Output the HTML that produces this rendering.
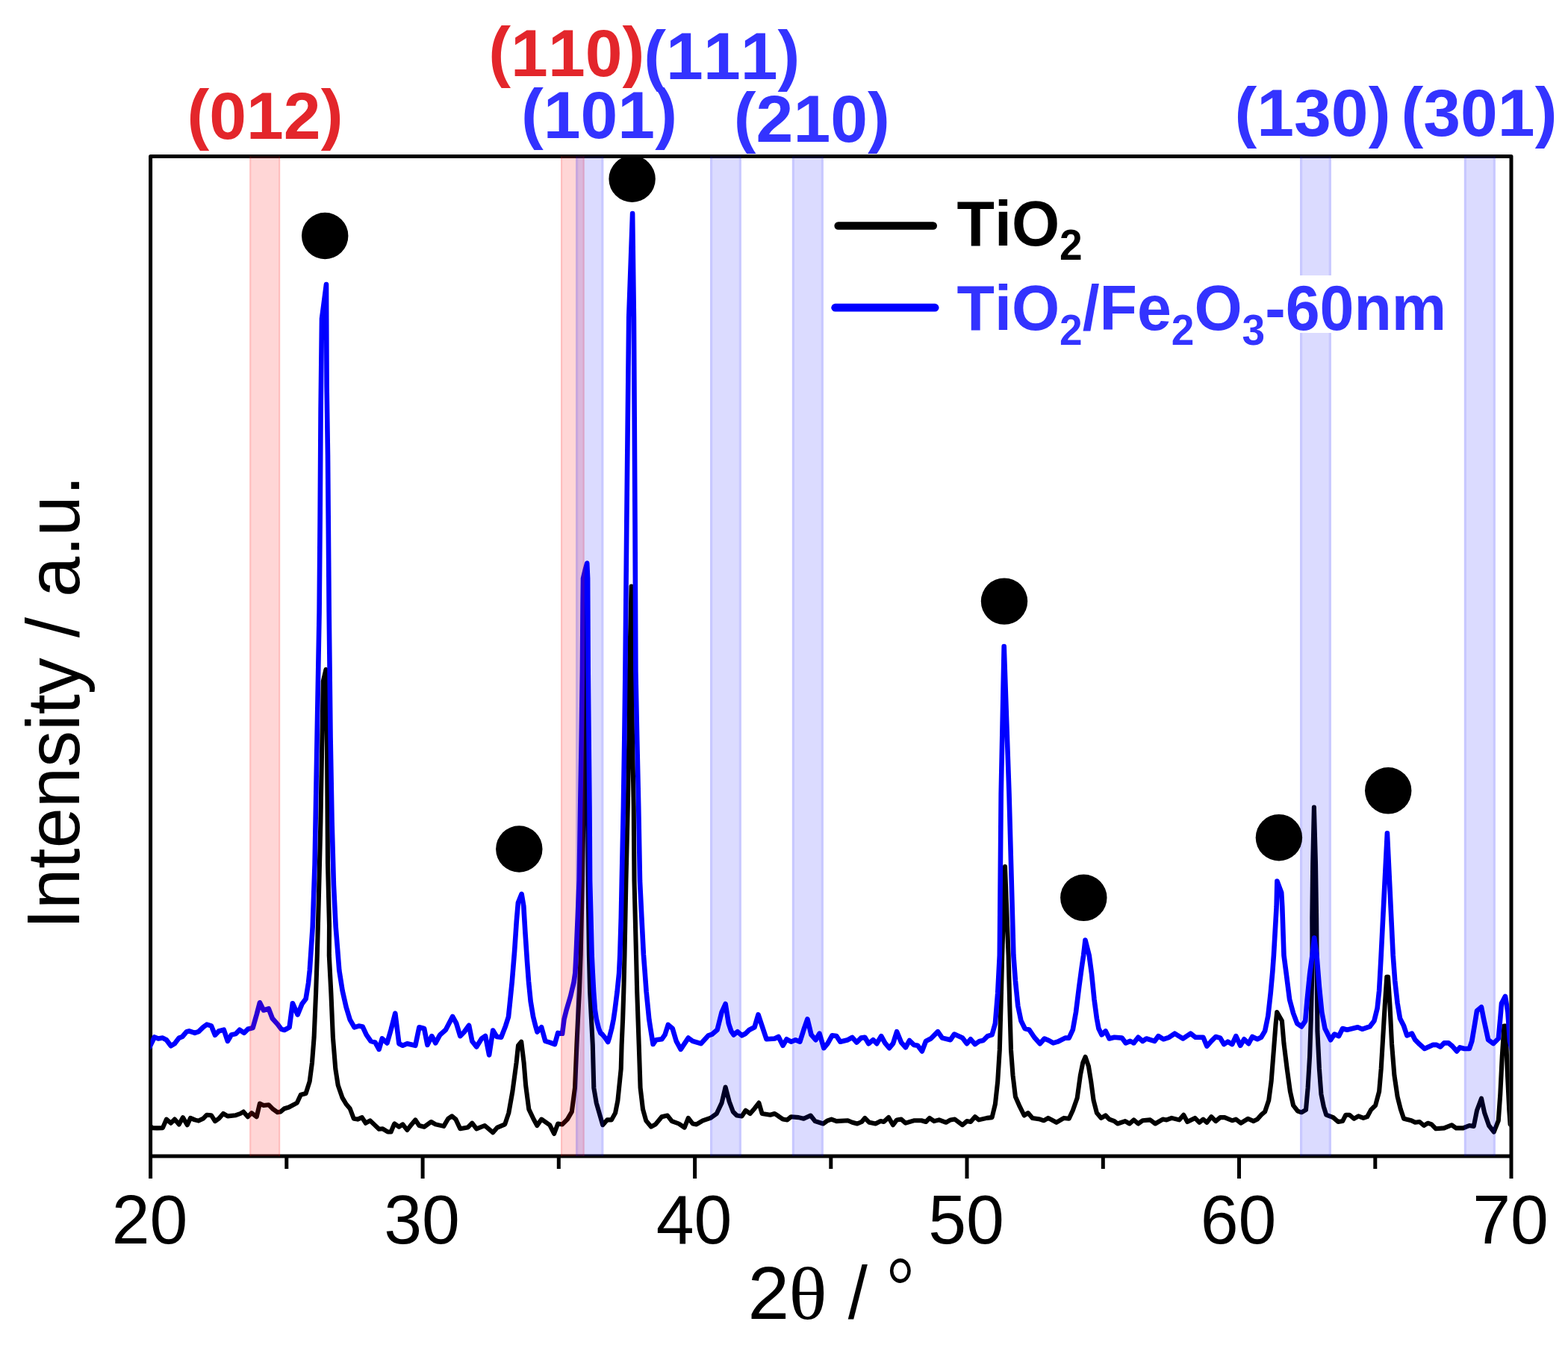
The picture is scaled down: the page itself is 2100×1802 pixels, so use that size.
<!DOCTYPE html>
<html lang="en"><head><meta charset="utf-8"><title>XRD patterns of TiO2 and TiO2/Fe2O3-60nm</title>
<style>
html,body{margin:0;padding:0;background:#fff;}
body{width:2100px;height:1802px;overflow:hidden;}
svg{display:block;filter:blur(0.75px);}
text{font-family:"Liberation Sans",Arial,Helvetica,sans-serif;font-kerning:none;}
.tick{font-size:91.4px;fill:#000;text-anchor:middle;}
.axl{font-size:98px;fill:#000;}
.hkl{font-size:89.5px;font-weight:bold;font-kerning:none;}
.leg{font-size:82.5px;font-weight:bold;}
.red{fill:#e3262b;}
.blu{fill:#3333ff;}
</style></head>
<body>
<svg width="2100" height="1802" viewBox="0 0 2100 1802" role="img" aria-label="XRD patterns">
<rect x="0" y="0" width="2100" height="1802" fill="#ffffff"/>

<g stroke="#000" stroke-width="5.0" fill="none" stroke-linecap="butt">
<path d="M201.6,1579.0 L201.6,209.5 L2024.0,209.5 L2024.0,1579.0" stroke-linejoin="round"/>
<path d="M201.6,1549.0 L2024.0,1549.0"/>
<path d="M566.1,1549.0 L566.1,1579.0"/>
<path d="M930.6,1549.0 L930.6,1579.0"/>
<path d="M1295.0,1549.0 L1295.0,1579.0"/>
<path d="M1659.5,1549.0 L1659.5,1579.0"/>
<path d="M383.8,1549.0 L383.8,1566"/>
<path d="M748.3,1549.0 L748.3,1566"/>
<path d="M1112.8,1549.0 L1112.8,1566"/>
<path d="M1477.3,1549.0 L1477.3,1566"/>
<path d="M1841.8,1549.0 L1841.8,1566"/>
</g>
<clipPath id="plotclip"><rect x="201.6" y="209.5" width="1820.0" height="1339.5"/></clipPath>
<g fill="none" stroke-linejoin="round" stroke-linecap="round" clip-path="url(#plotclip)">
<path d="M200.1,1508.0 L204.4,1511.1 L210.3,1511.4 L217.9,1511.1 L222.9,1499.6 L228.9,1504.7 L233.9,1499.6 L239.8,1506.4 L244.9,1497.1 L250.8,1507.2 L255.0,1497.9 L260.9,1500.4 L266.0,1501.6 L271.9,1498.8 L277.0,1493.7 L282.9,1494.2 L288.0,1502.1 L293.0,1498.8 L299.0,1492.0 L304.9,1495.4 L315.8,1494.2 L321.8,1492.0 L326.0,1489.5 L331.9,1496.2 L337.0,1491.1 L343.7,1496.2 L347.9,1478.5 L353.0,1481.0 L359.8,1480.2 L365.7,1486.1 L371.6,1490.3 L375.8,1489.5 L380.9,1485.2 L386.8,1483.5 L397.8,1477.6 L402.8,1466.7 L409.6,1465.0 L414.7,1448.9 L418.0,1423.6 L420.6,1389.8 L423.1,1330.7 L424.8,1280.0 L426.6,1213.7 L429.4,1101.0 L431.4,988.7 L432.8,912.8 L436.5,897.0 L438.0,1000.0 L439.0,1157.0 L441.0,1240.0 L440.8,1280.0 L443.4,1330.7 L445.9,1389.8 L449.3,1432.0 L452.7,1454.0 L458.6,1470.9 L463.6,1479.3 L468.7,1485.2 L473.8,1498.8 L478.9,1499.6 L484.8,1497.1 L489.8,1504.7 L495.7,1501.3 L501.7,1507.2 L507.6,1512.8 L512.6,1512.3 L519.4,1516.5 L523.6,1516.5 L527.8,1506.4 L528.4,1505.5 L534.4,1509.7 L539.4,1506.4 L545.3,1514.0 L551.2,1506.4 L556.3,1500.4 L561.4,1508.0 L568.1,1509.7 L577.4,1503.0 L583.3,1506.4 L594.3,1508.9 L600.2,1498.8 L605.3,1495.4 L610.4,1499.6 L616.3,1512.3 L626.4,1510.6 L632.3,1504.7 L638.2,1512.3 L649.2,1508.0 L660.2,1517.3 L666.1,1510.6 L676.2,1506.4 L681.3,1491.1 L686.4,1462.4 L691.6,1423.6 L694.0,1400.8 L698.2,1395.7 L701.6,1423.6 L704.1,1454.0 L708.3,1486.1 L714.3,1498.8 L719.3,1508.0 L725.2,1499.6 L736.2,1507.2 L742.1,1519.0 L747.2,1505.5 L753.1,1506.4 L759.9,1499.6 L765.8,1489.5 L770.0,1457.4 L772.4,1400.0 L774.0,1365.6 L775.9,1328.5 L777.7,1279.0 L779.9,1180.0 L781.2,1105.0 L783.0,902.0 L785.0,800.0 L786.3,777.0 L787.0,880.0 L787.3,1105.0 L787.6,1180.0 L788.9,1279.0 L790.1,1328.5 L792.0,1365.6 L793.8,1400.0 L795.3,1457.4 L798.7,1477.6 L807.2,1507.2 L813.1,1500.4 L819.0,1500.4 L824.1,1491.1 L827.4,1474.3 L831.7,1432.0 L832.6,1400.0 L834.1,1365.6 L835.3,1328.5 L836.5,1279.0 L838.4,1180.0 L840.8,1080.0 L842.3,990.0 L843.0,900.0 L845.6,785.5 L845.9,900.0 L847.0,990.0 L848.7,1080.0 L849.5,1180.0 L852.0,1279.0 L853.2,1328.5 L854.5,1365.6 L855.7,1400.0 L857.6,1457.4 L861.0,1486.1 L865.2,1501.3 L872.0,1509.7 L877.9,1506.4 L886.3,1496.2 L893.9,1494.5 L899.8,1502.1 L909.1,1505.5 L916.7,1510.6 L921.8,1497.9 L927.7,1505.5 L932.8,1506.4 L941.2,1501.3 L951.4,1497.9 L959.8,1492.0 L966.6,1477.6 L971.6,1456.5 L976.7,1475.9 L981.8,1489.5 L986.8,1494.5 L993.6,1495.4 L998.6,1487.8 L1004.6,1492.0 L1010.5,1485.2 L1016.4,1477.6 L1020.6,1492.0 L1031.6,1493.7 L1037.5,1492.0 L1042.6,1495.4 L1048.5,1499.6 L1054.4,1500.4 L1059.5,1496.2 L1069.6,1497.1 L1076.4,1498.8 L1085.6,1494.5 L1091.6,1502.1 L1102.5,1505.5 L1108.4,1501.3 L1113.5,1499.6 L1120.3,1502.1 L1135.5,1501.3 L1141.4,1503.8 L1148.1,1505.5 L1154.1,1503.0 L1158.3,1497.9 L1164.2,1503.8 L1172.6,1505.5 L1179.4,1502.1 L1183.6,1503.0 L1190.1,1497.1 L1196.0,1507.2 L1201.1,1500.4 L1207.0,1499.6 L1212.9,1504.7 L1223.9,1501.3 L1234.1,1501.3 L1240.0,1503.0 L1245.0,1497.9 L1250.9,1502.1 L1257.7,1500.4 L1267.0,1503.8 L1272.9,1500.4 L1278.8,1499.6 L1289.0,1507.2 L1294.9,1502.1 L1299.9,1503.0 L1305.8,1496.2 L1310.9,1500.4 L1321.9,1497.9 L1328.6,1497.1 L1332.9,1479.3 L1336.2,1448.9 L1338.8,1406.7 L1340.5,1347.6 L1342.2,1280.0 L1346.0,1161.0 L1350.6,1280.0 L1352.3,1347.6 L1354.0,1406.7 L1356.5,1440.5 L1359.9,1469.2 L1365.8,1482.7 L1371.7,1494.5 L1376.8,1491.1 L1382.7,1497.9 L1392.8,1499.6 L1397.9,1501.3 L1403.8,1497.9 L1414.8,1503.8 L1424.9,1497.9 L1431.7,1498.8 L1436.8,1487.8 L1442.7,1470.9 L1446.9,1440.5 L1450.3,1423.6 L1453.6,1416.0 L1457.9,1428.6 L1461.2,1448.9 L1464.6,1474.3 L1468.9,1491.1 L1474.8,1497.9 L1480.7,1494.5 L1485.7,1499.6 L1492.5,1502.1 L1496.7,1505.5 L1506.9,1502.1 L1512.8,1505.5 L1518.4,1500.4 L1524.4,1505.5 L1530.3,1501.3 L1540.4,1500.4 L1547.2,1505.5 L1557.3,1499.6 L1562.4,1500.4 L1569.1,1497.9 L1579.3,1500.4 L1585.2,1493.7 L1590.2,1503.0 L1600.4,1497.9 L1606.3,1503.8 L1611.4,1499.6 L1616.4,1503.8 L1622.3,1496.2 L1628.2,1502.1 L1634.2,1497.1 L1640.1,1497.1 L1650.2,1501.3 L1655.3,1499.6 L1662.0,1504.7 L1671.3,1498.8 L1678.9,1502.1 L1684.0,1499.6 L1689.1,1493.7 L1694.1,1489.5 L1699.2,1474.3 L1702.6,1448.9 L1705.9,1406.7 L1708.5,1372.9 L1710.2,1356.0 L1716.9,1367.8 L1719.5,1398.2 L1723.7,1432.0 L1727.9,1462.4 L1732.1,1481.0 L1738.0,1488.6 L1743.1,1490.3 L1749.0,1486.9 L1751.6,1457.4 L1754.1,1415.1 L1755.8,1364.5 L1757.1,1313.8 L1757.5,1280.0 L1757.3,1230.0 L1758.2,1157.0 L1759.9,1081.5 L1762.0,1157.0 L1763.1,1230.0 L1763.6,1280.0 L1764.4,1381.4 L1766.9,1432.0 L1769.4,1465.8 L1772.8,1482.7 L1776.2,1493.7 L1785.5,1497.1 L1792.2,1503.0 L1798.1,1502.1 L1802.4,1493.7 L1807.4,1493.7 L1813.3,1498.8 L1819.3,1495.4 L1826.0,1497.9 L1831.1,1496.2 L1836.1,1486.9 L1842.1,1481.0 L1847.1,1462.4 L1849.7,1432.0 L1852.2,1389.8 L1854.7,1347.6 L1857.3,1308.7 L1859.0,1308.7 L1861.5,1347.6 L1864.0,1398.2 L1867.4,1440.5 L1871.6,1469.2 L1875.8,1486.1 L1880.1,1498.8 L1890.2,1501.3 L1895.3,1503.8 L1901.2,1503.0 L1907.1,1508.0 L1912.2,1504.7 L1917.2,1506.4 L1923.1,1512.3 L1934.1,1511.4 L1944.3,1507.2 L1950.2,1511.4 L1959.5,1511.4 L1967.9,1508.0 L1973.8,1508.9 L1978.0,1487.8 L1984.0,1471.7 L1988.2,1491.1 L1994.1,1508.0 L2000.8,1516.5 L2006.8,1501.3 L2009.3,1465.8 L2011.8,1415.1 L2014.4,1374.6 L2016.6,1374.6 L2018.6,1432.0 L2021.3,1487.8 L2022.6,1506.4 L2025.3,1509.7" stroke="#000000" stroke-width="6.1"/>
<path d="M200.1,1403.3 L206.9,1389.5 L212.0,1391.5 L217.9,1390.6 L222.9,1393.2 L228.9,1401.3 L233.9,1398.2 L239.8,1390.6 L244.1,1389.0 L250.0,1382.2 L253.3,1381.4 L260.9,1383.9 L266.0,1382.2 L271.9,1376.3 L277.0,1372.6 L282.9,1374.3 L288.0,1386.8 L293.0,1381.4 L299.8,1379.7 L304.9,1394.9 L309.9,1386.4 L315.8,1385.1 L320.9,1379.7 L326.8,1383.9 L331.9,1378.8 L338.6,1377.1 L343.7,1359.4 L347.9,1343.3 L353.0,1353.5 L359.8,1351.3 L364.8,1364.5 L371.6,1372.1 L376.7,1378.8 L380.9,1380.0 L387.6,1376.3 L391.9,1344.2 L398.6,1359.4 L404.5,1345.0 L409.6,1338.3 L413.0,1317.2 L414.8,1300.0 L418.7,1241.8 L421.6,1157.5 L424.6,988.7 L427.6,820.0 L428.6,700.0 L429.6,548.0 L431.0,427.0 L437.0,381.0 L437.6,517.0 L439.0,610.0 L439.8,705.6 L440.7,820.0 L442.6,988.7 L444.6,1101.0 L446.9,1185.6 L449.7,1241.8 L454.3,1300.0 L458.6,1327.3 L463.6,1349.3 L468.7,1366.1 L474.6,1376.3 L480.5,1374.6 L485.6,1375.4 L490.7,1386.4 L496.6,1394.9 L502.5,1396.6 L507.6,1405.8 L511.8,1391.5 L518.5,1397.4 L523.6,1379.7 L529.3,1357.7 L534.4,1398.2 L539.4,1400.8 L545.3,1398.2 L556.3,1400.8 L561.4,1376.3 L568.1,1378.0 L572.4,1399.9 L578.3,1388.1 L583.3,1397.4 L589.3,1386.4 L596.9,1379.7 L606.1,1361.9 L611.2,1371.2 L616.3,1388.1 L621.4,1383.0 L628.1,1373.8 L632.3,1394.9 L638.2,1402.5 L645.0,1391.5 L650.1,1388.1 L655.1,1413.4 L660.2,1380.5 L665.3,1389.0 L671.2,1389.8 L677.1,1374.6 L681.0,1362.2 L683.1,1341.9 L685.8,1315.0 L689.1,1274.5 L691.8,1234.0 L693.9,1209.5 L698.6,1197.8 L701.3,1213.7 L703.3,1247.5 L706.0,1288.0 L708.0,1315.0 L710.7,1341.9 L714.1,1362.2 L717.5,1375.7 L719.5,1382.6 L725.2,1376.3 L730.3,1394.9 L736.2,1396.6 L743.0,1399.1 L747.2,1383.9 L753.1,1384.7 L755.5,1365.6 L758.6,1353.3 L764.1,1334.7 L768.5,1316.1 L770.3,1303.8 L771.6,1279.0 L773.7,1229.5 L775.7,1180.0 L777.2,1080.0 L778.7,990.0 L779.9,900.0 L780.6,808.7 L781.0,775.0 L783.7,763.7 L786.2,754.5 L787.1,775.0 L787.7,900.0 L788.6,990.0 L789.5,1080.0 L790.1,1180.0 L791.4,1229.5 L792.6,1279.0 L793.8,1303.8 L795.1,1328.5 L796.9,1353.3 L798.8,1365.6 L801.9,1378.0 L804.4,1384.2 L806.8,1386.0 L810.5,1390.5 L814.2,1396.0 L816.0,1390.4 L819.2,1378.0 L821.7,1365.6 L823.5,1353.3 L826.6,1328.5 L829.1,1303.8 L830.3,1279.0 L831.8,1229.5 L832.8,1180.0 L834.9,1080.0 L836.3,990.0 L837.4,900.0 L839.3,700.0 L842.2,425.0 L847.1,286.0 L848.9,425.0 L850.5,700.0 L851.4,900.0 L853.2,990.0 L855.2,1080.0 L857.0,1180.0 L859.4,1229.5 L861.9,1279.0 L863.8,1303.8 L865.6,1328.5 L868.1,1353.3 L869.3,1365.6 L871.2,1378.0 L873.2,1390.4 L874.6,1399.0 L878.7,1393.2 L886.3,1392.3 L890.5,1386.4 L894.8,1372.9 L900.7,1378.0 L905.7,1394.9 L911.7,1405.8 L921.8,1390.6 L927.7,1394.9 L938.7,1398.2 L948.8,1387.3 L953.9,1385.6 L960.6,1379.7 L966.6,1356.0 L971.6,1345.0 L975.8,1371.2 L979.2,1381.4 L982.6,1386.4 L987.7,1382.2 L993.6,1387.3 L998.6,1384.7 L1003.7,1379.7 L1010.5,1376.3 L1015.5,1359.4 L1020.6,1374.6 L1026.5,1392.3 L1037.5,1391.5 L1042.6,1389.0 L1048.5,1400.8 L1053.5,1392.3 L1059.5,1395.7 L1065.4,1393.2 L1071.3,1395.7 L1076.4,1379.7 L1081.4,1365.3 L1086.5,1386.4 L1092.4,1393.2 L1097.5,1384.7 L1103.4,1404.2 L1108.4,1398.2 L1114.4,1387.3 L1120.3,1388.1 L1125.3,1395.7 L1135.5,1393.2 L1141.4,1389.8 L1147.3,1396.6 L1153.2,1390.6 L1158.3,1389.8 L1163.3,1398.2 L1169.3,1393.2 L1174.3,1398.2 L1180.2,1388.1 L1185.3,1397.4 L1191.0,1404.2 L1196.0,1398.2 L1201.1,1382.2 L1207.0,1396.6 L1212.9,1403.3 L1218.0,1394.0 L1223.9,1399.9 L1229.0,1400.8 L1234.9,1408.4 L1240.0,1394.9 L1246.7,1391.5 L1256.0,1382.2 L1261.9,1390.6 L1272.9,1393.2 L1278.0,1385.6 L1289.0,1390.6 L1294.9,1398.2 L1299.9,1392.3 L1305.8,1399.1 L1311.8,1394.9 L1316.8,1394.0 L1322.7,1388.1 L1328.6,1386.4 L1332.9,1371.2 L1336.2,1330.7 L1338.8,1280.0 L1340.7,1063.7 L1344.7,866.0 L1351.5,1063.7 L1357.4,1280.0 L1359.9,1313.8 L1363.3,1347.6 L1367.5,1367.8 L1372.6,1378.0 L1378.5,1379.7 L1385.2,1389.8 L1392.8,1398.2 L1398.8,1391.5 L1404.7,1394.0 L1410.6,1397.4 L1416.5,1395.7 L1426.6,1390.6 L1431.7,1390.6 L1436.8,1379.7 L1441.0,1356.0 L1445.2,1322.2 L1448.6,1296.9 L1451.1,1280.0 L1453.5,1259.5 L1458.7,1280.0 L1462.1,1305.3 L1465.5,1339.1 L1468.9,1364.5 L1471.4,1378.0 L1475.6,1386.4 L1480.7,1381.4 L1485.7,1391.5 L1492.5,1389.8 L1502.6,1390.6 L1507.7,1397.4 L1513.6,1394.9 L1518.7,1397.4 L1518.4,1397.4 L1524.4,1389.8 L1530.3,1394.9 L1535.3,1391.5 L1546.3,1394.9 L1551.4,1388.1 L1558.1,1392.3 L1565.7,1389.8 L1573.3,1384.7 L1584.3,1391.5 L1594.5,1384.7 L1601.2,1389.8 L1611.4,1389.8 L1616.4,1401.6 L1622.3,1394.9 L1628.2,1389.0 L1634.2,1390.6 L1639.2,1399.1 L1644.3,1395.7 L1650.2,1399.1 L1655.3,1388.1 L1661.2,1400.8 L1666.2,1392.3 L1672.2,1398.2 L1677.2,1389.0 L1684.0,1392.3 L1689.1,1389.8 L1694.1,1381.4 L1698.3,1361.1 L1701.7,1330.7 L1704.3,1302.0 L1705.9,1280.0 L1709.6,1215.0 L1710.4,1180.5 L1716.2,1196.0 L1717.3,1215.0 L1719.5,1280.0 L1722.8,1305.3 L1727.1,1339.1 L1732.1,1357.7 L1737.2,1371.2 L1743.1,1375.4 L1748.2,1367.8 L1750.7,1339.1 L1754.1,1305.3 L1757.5,1280.0 L1760.2,1256.5 L1763.5,1280.0 L1766.9,1322.2 L1770.3,1356.0 L1774.5,1378.0 L1782.1,1393.2 L1787.2,1385.6 L1793.1,1388.1 L1798.1,1378.0 L1804.1,1379.7 L1818.4,1376.3 L1824.3,1378.8 L1834.5,1375.4 L1840.4,1367.8 L1844.6,1350.9 L1847.1,1327.3 L1848.8,1296.9 L1849.7,1280.0 L1857.9,1116.2 L1865.7,1280.0 L1868.2,1313.8 L1871.6,1344.2 L1875.0,1364.5 L1880.1,1374.6 L1884.3,1387.3 L1891.0,1384.7 L1895.3,1393.2 L1901.2,1399.1 L1907.9,1405.0 L1918.9,1399.9 L1924.0,1399.9 L1929.1,1402.5 L1934.1,1397.4 L1940.0,1397.4 L1945.1,1401.6 L1951.0,1408.4 L1955.2,1403.3 L1961.1,1405.0 L1967.9,1405.0 L1971.3,1394.9 L1974.7,1374.6 L1978.0,1354.3 L1984.0,1349.3 L1987.3,1366.1 L1993.2,1393.2 L2000.0,1398.2 L2006.8,1391.5 L2009.3,1364.5 L2011.0,1344.2 L2016.0,1334.9 L2019.4,1356.0 L2022.0,1394.9 L2025.3,1408.4" stroke="#0000ff" stroke-width="6.6"/>
</g>
<g>
<rect x="334.2" y="209.6" width="41.0" height="1339.4" fill="rgba(255,0,0,0.16)"/>
<rect x="334.2" y="209.6" width="2.2" height="1339.4" fill="rgba(255,0,0,0.11)"/>
<rect x="373.0" y="209.6" width="2.2" height="1339.4" fill="rgba(255,0,0,0.11)"/>
<rect x="751.0" y="209.6" width="31.7" height="1339.4" fill="rgba(255,0,0,0.16)"/>
<rect x="751.0" y="209.6" width="2.2" height="1339.4" fill="rgba(255,0,0,0.11)"/>
<rect x="780.5" y="209.6" width="2.2" height="1339.4" fill="rgba(255,0,0,0.11)"/>
<rect x="771.0" y="209.6" width="37.4" height="1339.4" fill="rgba(0,0,255,0.14)"/>
<rect x="771.0" y="209.6" width="3.2" height="1339.4" fill="rgba(0,0,255,0.085)"/>
<rect x="805.2" y="209.6" width="3.2" height="1339.4" fill="rgba(0,0,255,0.085)"/>
<rect x="951.0" y="209.6" width="41.9" height="1339.4" fill="rgba(0,0,255,0.14)"/>
<rect x="951.0" y="209.6" width="3.2" height="1339.4" fill="rgba(0,0,255,0.085)"/>
<rect x="989.7" y="209.6" width="3.2" height="1339.4" fill="rgba(0,0,255,0.085)"/>
<rect x="1060.8" y="209.6" width="42.1" height="1339.4" fill="rgba(0,0,255,0.14)"/>
<rect x="1060.8" y="209.6" width="3.2" height="1339.4" fill="rgba(0,0,255,0.085)"/>
<rect x="1099.7" y="209.6" width="3.2" height="1339.4" fill="rgba(0,0,255,0.085)"/>
<rect x="1741.0" y="209.6" width="41.9" height="1339.4" fill="rgba(0,0,255,0.14)"/>
<rect x="1741.0" y="209.6" width="3.2" height="1339.4" fill="rgba(0,0,255,0.085)"/>
<rect x="1779.7" y="209.6" width="3.2" height="1339.4" fill="rgba(0,0,255,0.085)"/>
<rect x="1960.8" y="209.6" width="42.1" height="1339.4" fill="rgba(0,0,255,0.14)"/>
<rect x="1960.8" y="209.6" width="3.2" height="1339.4" fill="rgba(0,0,255,0.085)"/>
<rect x="1999.7" y="209.6" width="3.2" height="1339.4" fill="rgba(0,0,255,0.085)"/>
</g>
<circle cx="435.2" cy="316" r="31.2" fill="#000"/>
<circle cx="846.6" cy="239.7" r="31.2" fill="#000"/>
<circle cx="695.3" cy="1137.5" r="31.2" fill="#000"/>
<circle cx="1345" cy="805.6" r="31.2" fill="#000"/>
<circle cx="1451.3" cy="1202.8" r="31.2" fill="#000"/>
<circle cx="1712.9" cy="1122.2" r="31.2" fill="#000"/>
<circle cx="1859.2" cy="1059.3" r="31.2" fill="#000"/>
<rect x="1272" y="369" width="668" height="77" fill="#fff"/>
<path d="M1122.7,302.5 L1249.7,302.5" stroke="#000" stroke-width="10.6" stroke-linecap="round"/>
<path d="M1118.7,412.2 L1252.1,412.2" stroke="#0000ff" stroke-width="10.8" stroke-linecap="round"/>
<text class="leg" transform="translate(1281.6,329) scale(1,1.03)" fill="#000">TiO<tspan font-size="55" dy="18.8">2</tspan></text>
<text class="leg blu" transform="translate(1281.6,442.4) scale(1,1.03)">TiO<tspan font-size="55" dy="18.8">2</tspan><tspan dy="-18.8">/Fe</tspan><tspan font-size="55" dy="18.8">2</tspan><tspan dy="-18.8">O</tspan><tspan font-size="55" dy="18.8">3</tspan><tspan dy="-18.8">-60nm</tspan></text>
<text class="hkl red" x="250.5" y="185.7"><tspan dy="-2.8">(</tspan><tspan dy="2.8">012</tspan><tspan dy="-2.8">)</tspan></text>
<text class="hkl red" x="654.3" y="102"><tspan dy="-2.8">(</tspan><tspan dy="2.8">110</tspan><tspan dy="-2.8">)</tspan></text>
<text class="hkl blu" x="862.3" y="106.4"><tspan dy="-2.8">(</tspan><tspan dy="2.8">111</tspan><tspan dy="-2.8">)</tspan></text>
<text class="hkl blu" x="698" y="185"><tspan dy="-2.8">(</tspan><tspan dy="2.8">101</tspan><tspan dy="-2.8">)</tspan></text>
<text class="hkl blu" x="982.8" y="190"><tspan dy="-2.8">(</tspan><tspan dy="2.8">210</tspan><tspan dy="-2.8">)</tspan></text>
<text class="hkl blu" x="1653.5" y="182.4"><tspan dy="-2.8">(</tspan><tspan dy="2.8">130</tspan><tspan dy="-2.8">)</tspan></text>
<text class="hkl blu" x="1876.5" y="182.4"><tspan dy="-2.8">(</tspan><tspan dy="2.8">301</tspan><tspan dy="-2.8">)</tspan></text>
<text class="tick" transform="translate(200.6,1665.6) scale(1,1.018)">20</text>
<text class="tick" transform="translate(565.1,1665.6) scale(1,1.018)">30</text>
<text class="tick" transform="translate(929.6,1665.6) scale(1,1.018)">40</text>
<text class="tick" transform="translate(1294.0,1665.6) scale(1,1.018)">50</text>
<text class="tick" transform="translate(1658.5,1665.6) scale(1,1.018)">60</text>
<text class="tick" transform="translate(2023.0,1665.6) scale(1,1.018)">70</text>
<g class="axl">
<text transform="translate(0,1766.8) scale(1,1.03)" xml:space="preserve"><tspan x="1001.4" y="0" textLength="55.6" lengthAdjust="spacingAndGlyphs">2</tspan><tspan x="1056.3" y="0.3" textLength="51.4" lengthAdjust="spacingAndGlyphs" style="font-family:'Liberation Serif',serif;font-size:96.3px">θ</tspan><tspan x="1109" y="0"> </tspan><tspan x="1135.8" y="0" textLength="26.1" lengthAdjust="spacingAndGlyphs">/</tspan><tspan x="1162" y="0"> </tspan><tspan x="1187.6" y="-8.8" textLength="36.8" lengthAdjust="spacingAndGlyphs" style="font-family:'Liberation Serif',serif;font-size:104.9px">°</tspan></text>
<text transform="translate(105.7,1245.1) rotate(-90) scale(1,1.03)" style="font-size:97.7px">Intensity / a.u.</text>
</g>
</svg>
</body></html>
